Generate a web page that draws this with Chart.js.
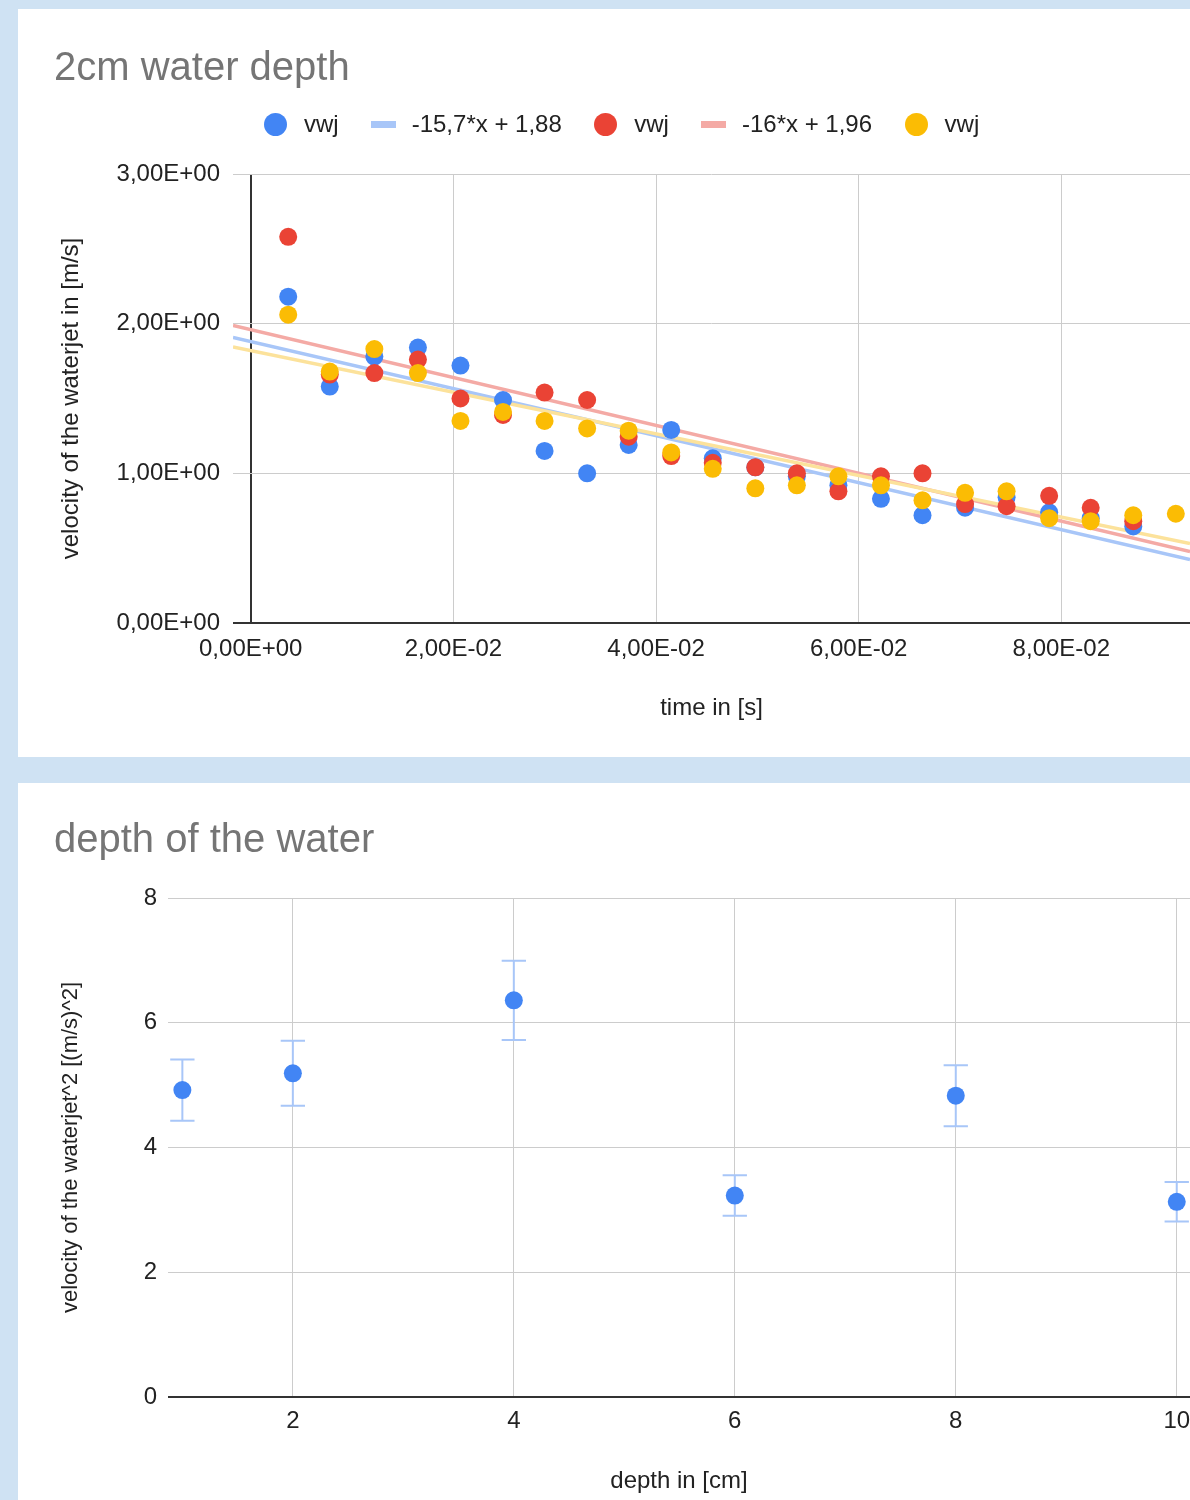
<!DOCTYPE html>
<html>
<head>
<meta charset="utf-8">
<title>waterjet velocity</title>
<script src="https://cdn.jsdelivr.net/npm/chart.js@4.4.1/dist/chart.umd.min.js"></script>
<style>
  html, body { margin: 0; padding: 0; }
  body {
    width: 1190px; height: 1500px; overflow: hidden; position: relative;
    background: #cfe2f3;
    font-family: "Liberation Sans", Arial, sans-serif;
  }
  .panel { position: absolute; left: 18px; width: 1172px; background: #fff; overflow: hidden; }
  #panelTop { top: 9px; height: 748px; }
  #panelBottom { top: 783px; height: 717px; }
  .panel canvas { position: absolute; left: 0; top: 0; }
  .chart-title {
    position: absolute; left: 36px; margin: 0;
    font-size: 40px; line-height: 40px; font-weight: normal;
    color: #757575; white-space: nowrap;
  }
  .legend {
    position: absolute; left: 246px; top: 100px; height: 30px;
    display: flex; align-items: center;
    font-size: 24px; color: #222; white-space: nowrap;
  }
  .legend .dot { width: 23px; height: 23px; border-radius: 50%; margin-right: 17px; }
  .legend .bar { width: 25px; height: 7px; margin-right: 15.5px; }
  .legend .item { display: flex; align-items: center; margin-right: 32.5px; }
</style>
</head>
<body>

<div class="panel" id="panelTop">
  <canvas id="timeChart" width="1192" height="748"></canvas>
  <h2 class="chart-title" style="top:37px">2cm water depth</h2>
  <div class="legend" id="timeLegend"></div>
</div>

<div class="panel" id="panelBottom">
  <canvas id="depthChart" width="1192" height="717"></canvas>
  <h2 class="chart-title" style="top:35px">depth of the water</h2>
</div>

<script>
// ----- top chart: velocity over time -----
const timeS = [0.0037, 0.0078, 0.0122, 0.0165, 0.0207, 0.0249, 0.0290, 0.0332, 0.0373, 0.0415, 0.0456,
               0.0498, 0.0539, 0.0580, 0.0622, 0.0663, 0.0705, 0.0746, 0.0788, 0.0829, 0.0871, 0.0913];
const vwjBlue   = [2.18, 1.58, 1.78, 1.84, 1.72, 1.49, 1.15, 1.00, 1.19, 1.29, 1.10,
                   1.04, 0.98, 0.92, 0.83, 0.72, 0.77, 0.84, 0.74, 0.70, 0.645];
const vwjRed    = [2.58, 1.66, 1.67, 1.76, 1.50, 1.39, 1.54, 1.49, 1.245, 1.115, 1.07,
                   1.04, 1.00, 0.88, 0.98, 1.00, 0.795, 0.78, 0.85, 0.77, 0.68];
const vwjYellow = [2.06, 1.68, 1.83, 1.67, 1.35, 1.41, 1.35, 1.30, 1.285, 1.14, 1.03,
                   0.90, 0.92, 0.98, 0.92, 0.82, 0.87, 0.88, 0.70, 0.68, 0.72, 0.73];

// linear trendlines (slope, intercept) for blue, red, yellow
const trendSlope     = [-15.7, -16, -13.9];
const trendIntercept = [1.88, 1.96, 1.82];
const trendLabels    = ["-15,7*x + 1,88", "-16*x + 1,96", "-13,9*x + 1,82"];

const timeMin = -0.00175;
const timeMax = 0.0927;
const timeTicks = [0, 0.02, 0.04, 0.06, 0.08];
const velTicks  = [0, 1, 2, 3];

// ----- bottom chart: v^2 over depth -----
const depthCm  = [1, 2, 4, 6, 8, 10];
const velSq    = [4.92, 5.19, 6.36, 3.23, 4.83, 3.13];
const velSqErr = [0.49, 0.52, 0.635, 0.325, 0.49, 0.315];
const depthTicks = [2, 4, 6, 8, 10];
const velSqTicks = [0, 2, 4, 6, 8];
const capHalfCm = 0.11; // half width of the error bar caps, in axis units

const BLUE = "#4285f4";
const RED = "#ea4335";
const YELLOW = "#fbbc04";
const TREND_COLORS = ["#a8c6f8", "#f4aaa5", "#fce29b"];
const ERR_COLOR = "#a8c6f8";
const GRID = "#cccccc";
const BASE = "#333333";
const TEXT = "#222222";

Chart.defaults.font.family = "'Liberation Sans', Arial, sans-serif";
Chart.defaults.font.size = 24;
Chart.defaults.color = TEXT;

window.addEventListener("load", () => {
    buildLegend();
    initTimeChart();
    initDepthChart();
});

// "3,00E+00" style labels
function sciLabel(v) {
    const parts = Number(v).toExponential(2).split("e");
    const e = parseInt(parts[1], 10);
    return parts[0].replace(".", ",") + "E" + (e < 0 ? "-" : "+") + String(Math.abs(e)).padStart(2, "0");
}

function toPoints(xs, ys) {
    return ys.map((y, i) => ({ x: xs[i], y: y }));
}

function gridColor(c) {
    return c.tick && c.tick.value === 0 ? BASE : GRID;
}
function gridWidth(c) {
    return c.tick && c.tick.value === 0 ? 2 : 1;
}

// Legend for the top chart (the yellow trendline has no entry)
function buildLegend() {
    const legend = document.getElementById("timeLegend");
    const entries = [
        { kind: "dot", color: BLUE, text: "vwj" },
        { kind: "bar", color: TREND_COLORS[0], text: trendLabels[0] },
        { kind: "dot", color: RED, text: "vwj" },
        { kind: "bar", color: TREND_COLORS[1], text: trendLabels[1] },
        { kind: "dot", color: YELLOW, text: "vwj" }
    ];
    entries.forEach(entry => {
        const item = document.createElement("div");
        item.className = "item";
        const mark = document.createElement("span");
        mark.className = entry.kind;
        mark.style.background = entry.color;
        const label = document.createElement("span");
        label.textContent = entry.text;
        item.appendChild(mark);
        item.appendChild(label);
        legend.appendChild(item);
    });
}

function initTimeChart() {
    const ctx = document.getElementById("timeChart").getContext("2d");

    const scatterSets = [
        { label: "vwj", data: toPoints(timeS, vwjBlue), backgroundColor: BLUE, order: 3 },
        { label: "vwj", data: toPoints(timeS, vwjRed), backgroundColor: RED, order: 2 },
        { label: "vwj", data: toPoints(timeS, vwjYellow), backgroundColor: YELLOW, order: 1 }
    ].map(ds => Object.assign(ds, { pointRadius: 9, pointHoverRadius: 9, borderWidth: 0 }));

    const trendSets = trendSlope.map((m, i) => ({
        label: trendLabels[i],
        data: [
            { x: timeMin, y: trendIntercept[i] + m * timeMin },
            { x: timeMax, y: trendIntercept[i] + m * timeMax }
        ],
        showLine: true,
        borderColor: TREND_COLORS[i],
        borderWidth: 3.5,
        pointRadius: 0,
        order: 6 - i
    }));

    new Chart(ctx, {
        type: "scatter",
        data: { datasets: trendSets.concat(scatterSets) },
        options: {
            responsive: false,
            animation: false,
            layout: { padding: { top: 165, left: 0, right: 20, bottom: 0 } },
            plugins: {
                legend: { display: false },
                tooltip: { enabled: false }
            },
            scales: {
                x: {
                    type: "linear",
                    min: timeMin,
                    max: timeMax,
                    afterBuildTicks: s => { s.ticks = timeTicks.map(v => ({ value: v })); },
                    afterFit: s => { s.height = 134; },
                    grid: { color: gridColor, lineWidth: gridWidth, drawTicks: false },
                    border: { display: false },
                    ticks: { padding: 12, maxRotation: 0, autoSkip: false, callback: v => sciLabel(v) },
                    title: { display: true, text: "time in [s]", padding: { top: 0, bottom: 34 } }
                },
                y: {
                    type: "linear",
                    min: 0,
                    max: 3,
                    afterBuildTicks: s => { s.ticks = velTicks.map(v => ({ value: v })); },
                    afterFit: s => { s.width = 215; },
                    grid: { color: gridColor, lineWidth: gridWidth, drawTicks: false },
                    border: { display: false },
                    ticks: { padding: 13, callback: v => sciLabel(v) },
                    title: { display: true, text: "velocity of the waterjet in [m/s]", padding: { top: 39, bottom: 0 } }
                }
            }
        }
    });
}

// Error bars as line segments (stem + two caps), separated by gaps
function errorBarPoints() {
    const pts = [];
    depthCm.forEach((d, i) => {
        const hi = velSq[i] + velSqErr[i];
        const lo = velSq[i] - velSqErr[i];
        pts.push({ x: d, y: lo }, { x: d, y: hi }, { x: d, y: null });
        pts.push({ x: d - capHalfCm, y: hi }, { x: d + capHalfCm, y: hi }, { x: d, y: null });
        pts.push({ x: d - capHalfCm, y: lo }, { x: d + capHalfCm, y: lo }, { x: d, y: null });
    });
    return pts;
}

function initDepthChart() {
    const ctx = document.getElementById("depthChart").getContext("2d");

    new Chart(ctx, {
        type: "scatter",
        data: {
            datasets: [
                {
                    label: "velocity^2",
                    data: toPoints(depthCm, velSq),
                    backgroundColor: BLUE,
                    borderWidth: 0,
                    pointRadius: 9,
                    pointHoverRadius: 9,
                    order: 1
                },
                {
                    label: "error",
                    data: errorBarPoints(),
                    showLine: true,
                    spanGaps: false,
                    borderColor: ERR_COLOR,
                    borderWidth: 2,
                    pointRadius: 0,
                    pointHoverRadius: 0,
                    order: 2
                }
            ]
        },
        options: {
            responsive: false,
            animation: false,
            layout: { padding: { top: 115, left: 0, right: 20, bottom: 0 } },
            plugins: {
                legend: { display: false },
                tooltip: { enabled: false }
            },
            scales: {
                x: {
                    type: "linear",
                    min: 0.87,
                    max: 10.12,
                    afterBuildTicks: s => { s.ticks = depthTicks.map(v => ({ value: v })); },
                    afterFit: s => { s.height = 103; },
                    grid: { color: GRID, lineWidth: 1, drawTicks: false },
                    border: { display: false },
                    ticks: { padding: 10, maxRotation: 0, autoSkip: false },
                    title: { display: true, text: "depth in [cm]", padding: { top: 0, bottom: 4 } }
                },
                y: {
                    type: "linear",
                    min: 0,
                    max: 8,
                    afterBuildTicks: s => { s.ticks = velSqTicks.map(v => ({ value: v })); },
                    afterFit: s => { s.width = 150; },
                    grid: { color: gridColor, lineWidth: gridWidth, drawTicks: false },
                    border: { display: false },
                    ticks: { padding: 11 },
                    title: {
                        display: true,
                        text: "velocity of the waterjet^2 [(m/s)^2]",
                        font: { size: 22 },
                        padding: { top: 40, bottom: 0 }
                    }
                }
            }
        }
    });
}
</script>
</body>
</html>
